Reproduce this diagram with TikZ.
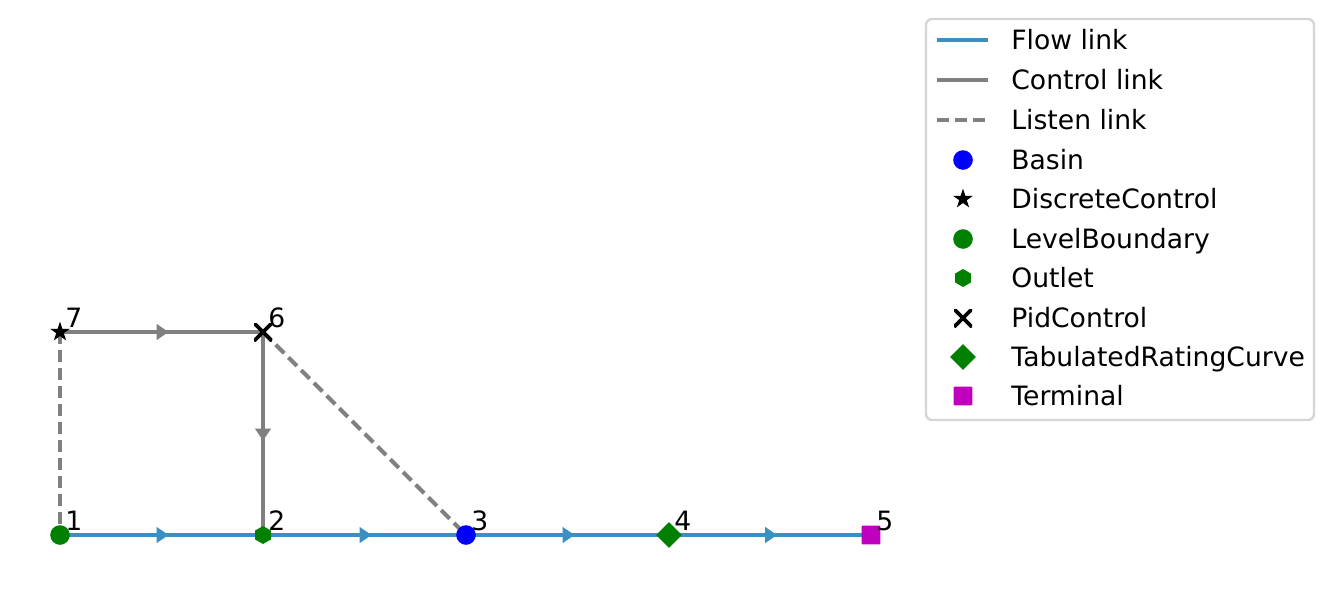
\documentclass[tikz,border=0pt]{standalone}
\usepackage{fontspec}
\setmainfont{DejaVu Sans}
\usetikzlibrary{shapes.geometric}
\definecolor{flowc}{HTML}{3A8FC3}
\definecolor{ctrlc}{HTML}{808080}
\definecolor{lgreen}{HTML}{008000}
\definecolor{lblue}{HTML}{0000FF}
\definecolor{lmag}{HTML}{BF00BF}
\definecolor{legedge}{HTML}{D6D6D6}
\newcommand{\arrtri}[3]{\fill[#1, shift={(#2)}, rotate=#3] (-2.5pt,4.1pt) -- (3.5pt,0pt) -- (-2.5pt,-4.1pt) -- cycle;}
\tikzset{
  txt/.style={font=\fontsize{13.3pt}{15pt}\selectfont, inner sep=0pt, anchor=base west},
  flowlink/.style={draw=flowc, line width=2pt},
  ctrllink/.style={draw=ctrlc, line width=2pt},
  listenlink/.style={draw=ctrlc, line width=2pt, dash pattern=on 6pt off 3pt},
  basinm/.style={circle, fill=lblue, minimum size=9.8pt, inner sep=0pt},
  levelm/.style={circle, fill=lgreen, minimum size=9.8pt, inner sep=0pt},
  outletm/.style={regular polygon, regular polygon sides=6, shape border rotate=30, fill=lgreen, minimum size=9pt, inner sep=0pt},
  trcm/.style={diamond, fill=lgreen, minimum size=13pt, inner sep=0pt},
  termm/.style={rectangle, rounded corners=0.5pt, fill=lmag, minimum size=9.4pt, inner sep=0pt},
  discm/.style={rectangle, minimum size=12pt, inner sep=0pt, path picture={\fill[black, shift={(path picture bounding box.center)}]
     (90:5.2pt) -- (126:2pt) -- (162:5.2pt) -- (198:2pt) -- (234:5.2pt) -- (270:2pt) -- (306:5.2pt) -- (342:2pt) -- (18:5.2pt) -- (54:2pt) -- cycle;}},
  pidm/.style={minimum size=9pt, inner sep=0pt, path picture={\draw[black, line width=1.9pt] (path picture bounding box.south west) -- (path picture bounding box.north east) (path picture bounding box.north west) -- (path picture bounding box.south east);}},
}
\begin{document}
\begin{tikzpicture}[x=0.5pt, y=-0.5pt]
\useasboundingbox (0,0) rectangle (1334,600);
% positions
\coordinate (p1) at (60,535);
\coordinate (p2) at (263,535);
\coordinate (p3) at (466,535);
\coordinate (p4) at (669,535);
\coordinate (p5) at (871,535);
\coordinate (p6) at (263,332);
\coordinate (p7) at (60,332);
% links
\draw[listenlink] (p7) -- (p1);
\draw[listenlink] (p6) -- (p3);
\draw[ctrllink] (p7) -- coordinate[pos=0.5] (a76) (p6);
\draw[ctrllink] (p6) -- coordinate[pos=0.5] (a62) (p2);
\draw[flowlink] (p1) -- coordinate[pos=0.5] (a12) (p2);
\draw[flowlink] (p2) -- coordinate[pos=0.5] (a23) (p3);
\draw[flowlink] (p3) -- coordinate[pos=0.5] (a34) (p4);
\draw[flowlink] (p4) -- coordinate[pos=0.5] (a45) (p5);
\arrtri{ctrlc}{a76}{0}
\arrtri{ctrlc}{a62}{-90}
\arrtri{flowc}{a12}{0}
\arrtri{flowc}{a23}{0}
\arrtri{flowc}{a34}{0}
\arrtri{flowc}{a45}{0}
% markers
\node[levelm] (m1) at (p1) {};
\node[outletm] (m2) at (p2) {};
\node[basinm] (m3) at (p3) {};
\node[trcm] (m4) at (p4) {};
\node[termm] (m5) at (p5) {};
\node[pidm] (m6) at (p6) {};
\node[discm] (m7) at (p7) {};
% labels
\node[txt] (l1) at (65,530) {1};
\node[txt] (l2) at (268,530) {2};
\node[txt] (l3) at (471,530) {3};
\node[txt] (l4) at (674,530) {4};
\node[txt] (l5) at (876,530) {5};
\node[txt] (l6) at (268,327) {6};
\node[txt] (l7) at (65,327) {7};
% legend
\draw[legedge, line width=1.2pt, fill=white, rounded corners=3pt] (926,19) rectangle (1314,420);
\coordinate (fa) at (937,40); \coordinate (fb) at (988,40);
\coordinate (ca) at (937,80); \coordinate (cb) at (988,80);
\coordinate (la) at (937,120); \coordinate (lb) at (988,120);
\draw[flowlink] (fa) -- (fb);
\draw[ctrllink] (ca) -- (cb);
\draw[listenlink] (la) -- (lb);
\node[basinm] (k1) at (963,160) {};
\node[discm] (k2) at (963,199) {};
\node[levelm] (k3) at (963,239) {};
\node[outletm] (k4) at (963,278) {};
\node[pidm] (k5) at (963,318) {};
\node[trcm] (k6) at (963,357) {};
\node[termm] (k7) at (963,396) {};
\node[txt] (t0) at (1011,49.5) {Flow link};
\node[txt] (t1) at (1011,89.5) {Control link};
\node[txt] (t2) at (1011,129.5) {Listen link};
\node[txt] (t3) at (1011,169.5) {Basin};
\node[txt] (t4) at (1011,208.5) {DiscreteControl};
\node[txt] (t5) at (1011,248.5) {LevelBoundary};
\node[txt] (t6) at (1011,287.5) {Outlet};
\node[txt] (t7) at (1011,327.5) {PidControl};
\node[txt] (t8) at (1011,366.5) {TabulatedRatingCurve};
\node[txt] (t9) at (1011,405.5) {Terminal};
\end{tikzpicture}
\end{document}
